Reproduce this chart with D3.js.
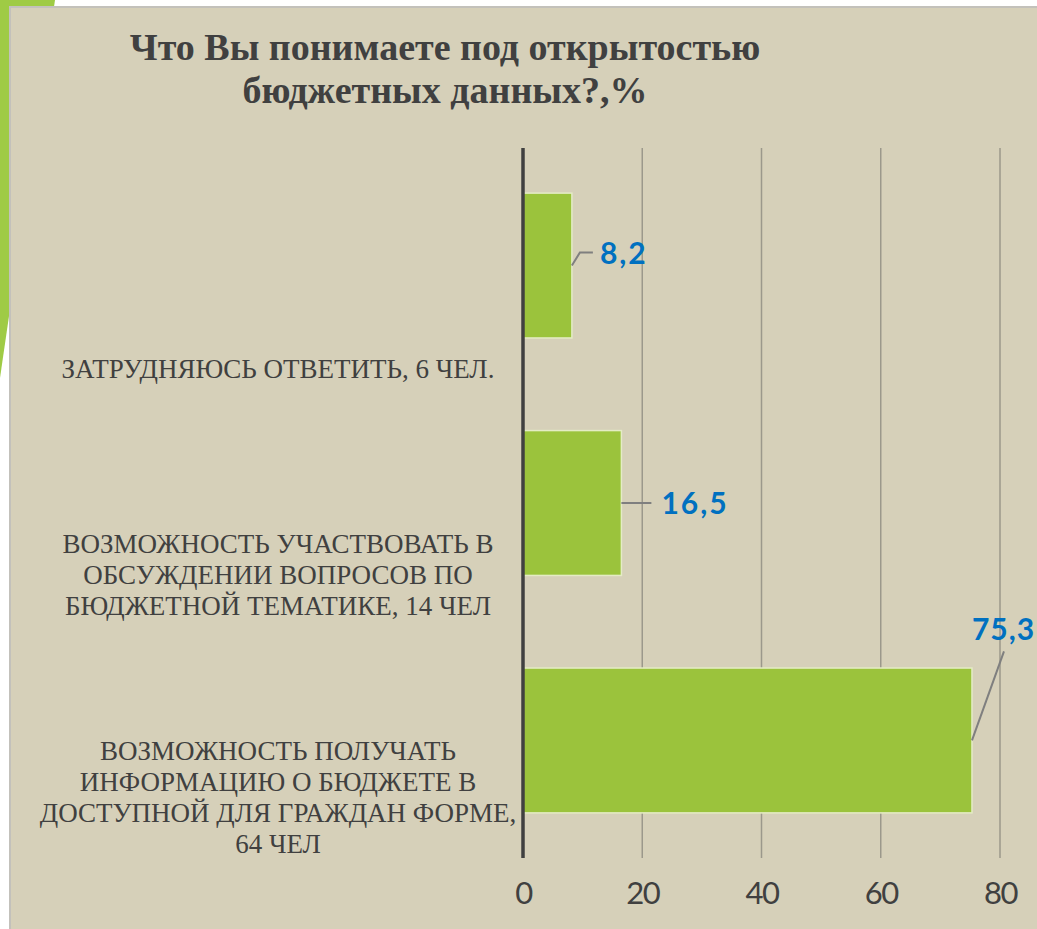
<!DOCTYPE html>
<html lang="ru">

<head>
  <meta charset='utf-8'>
  <script src='https://cdn.jsdelivr.net/npm/d3@7/dist/d3.min.js'></script>
  <title></title>
  <style>
    html, body {
      margin: 0;
      padding: 0;
      background: #fff;
    }

    #barchart {
      width: 1037px;
      height: 929px;
    }

    /* Settings for axes. */

    .axis path,
    .axis line {
      fill: none;
    }

    .axis text {
      font-family: Lato, 'Open Sans', sans-serif;
      font-size: 31px;
      fill: #404040;
      letter-spacing: -1.5px;
    }
  </style>
</head>

<body>
  <div id='barchart'></div>
  <script>
    // Values.

    var categories = [
      ['ЗАТРУДНЯЮСЬ ОТВЕТИТЬ, 6 ЧЕЛ.'],
      ['ВОЗМОЖНОСТЬ УЧАСТВОВАТЬ В', 'ОБСУЖДЕНИИ ВОПРОСОВ ПО', 'БЮДЖЕТНОЙ ТЕМАТИКЕ, 14 ЧЕЛ'],
      ['ВОЗМОЖНОСТЬ ПОЛУЧАТЬ', 'ИНФОРМАЦИЮ О БЮДЖЕТЕ В', 'ДОСТУПНОЙ ДЛЯ ГРАЖДАН ФОРМЕ,', '64 ЧЕЛ']
    ];
    var values = [8.2, 16.5, 75.3];
    var valueLabels = ['8,2', '16,5', '75,3'];
    var xTicks = [0, 20, 40, 60, 80];
    var titleLines = ['Что Вы понимаете под открытостью', 'бюджетных данных?,%'];

    var width = 1037,
      height = 929;

    var margin = {
      top: 148,
      right: 37,
      bottom: 71,
      left: 523
    };

    var svg = d3.select('#barchart')
      .append('svg')
      .attr('width', width)
      .attr('height', height);

    // Background: green wedge and beige panel.

    svg.append('path')
      .attr('d', 'M0,0L55,0L0,378Z')
      .attr('fill', '#9fcb45');

    svg.append('rect')
      .attr('x', 10)
      .attr('y', 7)
      .attr('width', width + 10)
      .attr('height', height + 10)
      .attr('fill', '#d6d0b9')
      .attr('stroke', '#c3c1bb')
      .attr('stroke-width', 2);

    // Title.

    svg.append('text')
      .attr('text-anchor', 'middle')
      .style('font-family', "'Liberation Serif', 'Times New Roman', serif")
      .style('font-weight', 'bold')
      .style('font-size', '38px')
      .style('fill', '#404040')
      .selectAll('tspan')
      .data(titleLines)
      .enter()
      .append('tspan')
      .attr('x', 445)
      .attr('y', function(d, i) {
        return 60 + i * 43;
      })
      .text(function(d) {
        return d;
      });

    // Create x and y scale.

    var xScale = d3.scaleLinear()
      .domain([0, 80])
      .range([margin.left, width - margin.right]);

    var keys = d3.range(categories.length);

    var yScale = d3.scaleBand()
      .domain(keys)
      .range([margin.top, height - margin.bottom])
      .paddingInner(0.39)
      .paddingOuter(0.19);

    // Gridlines.

    svg.append('g')
      .selectAll('line')
      .data(xTicks.slice(1))
      .enter()
      .append('line')
      .attr('x1', xScale)
      .attr('x2', xScale)
      .attr('y1', margin.top)
      .attr('y2', height - margin.bottom)
      .attr('stroke', '#9b988b')
      .attr('stroke-width', 1.5);

    // Bottom axis, labels only.

    var x_axis = svg.append('g')
      .attr('class', 'axis')
      .attr('transform', 'translate(0,' + (height - margin.bottom) + ')')
      .call(d3.axisBottom(xScale)
        .tickValues(xTicks)
        .tickSize(0)
        .tickPadding(24));

    x_axis.select('.domain').remove();
    x_axis.selectAll('text').attr('dy', '0.71em');

    // Bars.

    svg.append('g')
      .selectAll('rect')
      .data(values)
      .enter()
      .append('rect')
      .attr('x', xScale(0))
      .attr('y', function(d, i) {
        return yScale(i);
      })
      .attr('width', function(d) {
        return xScale(d) - xScale(0);
      })
      .attr('height', yScale.bandwidth())
      .attr('fill', '#9bc33c')
      .attr('stroke', '#e4ecc4')
      .attr('stroke-width', 1.5);

    // Vertical axis line.

    svg.append('line')
      .attr('x1', xScale(0))
      .attr('x2', xScale(0))
      .attr('y1', margin.top)
      .attr('y2', height - margin.bottom)
      .attr('stroke', '#404040')
      .attr('stroke-width', 3.5);

    // Category labels, bottom aligned a bit below each bar.

    var lineHeight = 31;

    svg.append('g')
      .selectAll('text')
      .data(categories)
      .enter()
      .append('text')
      .attr('text-anchor', 'middle')
      .style('font-family', "'Liberation Serif', 'Times New Roman', serif")
      .style('font-size', '27px')
      .style('fill', '#404040')
      .each(function(lines, i) {
        var base = yScale(i) + yScale.bandwidth() + 40;
        d3.select(this).selectAll('tspan')
          .data(lines)
          .enter()
          .append('tspan')
          .attr('x', 278)
          .attr('y', function(d, j) {
            return base - (lines.length - 1 - j) * lineHeight;
          })
          .text(function(d) {
            return d;
          });
      });

    // Data labels with leader lines (manually placed as in the original).

    var leaders = [
      function(x, y) { return { pts: [[x, y], [x + 8, y - 13], [x + 21, y - 13]], tx: x + 28, ty: y - 2 }; },
      function(x, y) { return { pts: [[x, y], [x + 30, y]], tx: x + 40, ty: y + 11 }; },
      function(x, y) { return { pts: [[x, y], [x + 32, y - 89]], tx: x, ty: y - 100 }; }
    ];

    var labels = svg.append('g')
      .selectAll('g')
      .data(values)
      .enter()
      .append('g')
      .each(function(d, i) {
        var p = leaders[i](xScale(d), yScale(i) + yScale.bandwidth() / 2);
        var g = d3.select(this);
        g.append('path')
          .attr('d', d3.line()(p.pts))
          .attr('fill', 'none')
          .attr('stroke', '#7f7f7f')
          .attr('stroke-width', 2);
        g.append('text')
          .attr('x', p.tx)
          .attr('y', p.ty)
          .style('font-family', "Lato, 'Liberation Sans', sans-serif")
          .style('font-weight', 'bold')
          .style('font-size', '30px')
          .style('letter-spacing', i === 2 ? '1px' : '2px')
          .style('fill', '#0070c0')
          .text(valueLabels[i]);
      });
  </script>
</body>

</html>
